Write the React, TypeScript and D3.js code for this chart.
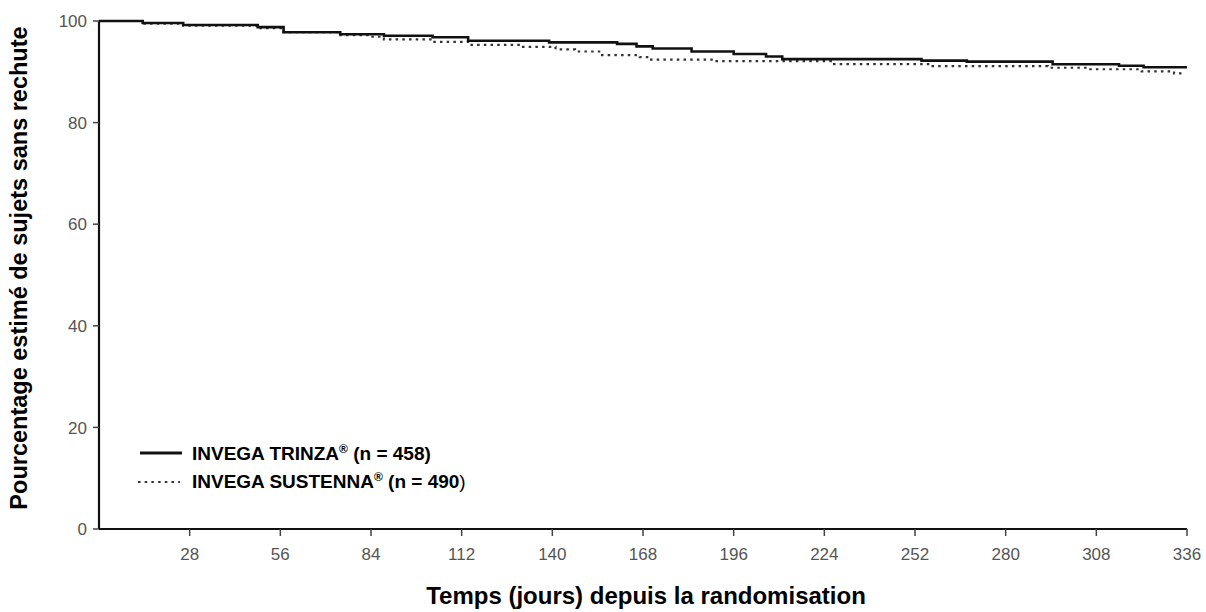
import React from "react";
import * as d3 from "d3";

const xTicks = [28, 56, 84, 112, 140, 168, 196, 224, 252, 280, 308, 336];
const yTicks = [0, 20, 40, 60, 80, 100];

const trinzaDays = [0, 13.5, 26, 49, 57, 74.5, 88, 103, 114, 139, 160, 166, 171, 183, 196, 206, 211, 254, 268, 294.5, 315, 322.6, 336];
const trinzaValues = [100, 99.6, 99.2, 98.8, 97.8, 97.4, 97.1, 96.8, 96.1, 95.8, 95.5, 95.0, 94.6, 94.0, 93.5, 93.0, 92.5, 92.2, 92.0, 91.5, 91.2, 90.9, 90.9];

const sustennaDays = [0, 13.5, 26, 49, 57, 74, 84, 88, 103, 114, 130, 141, 147, 155, 167, 170, 190, 226, 257, 293, 305, 322, 332, 335];
const sustennaValues = [100, 99.5, 99.1, 98.6, 97.8, 97.2, 96.9, 96.4, 95.9, 95.3, 94.9, 94.4, 94.0, 93.3, 92.9, 92.4, 92.1, 91.5, 91.1, 90.8, 90.5, 90.1, 89.7, 89.7];

const W = 1206;
const H = 612;

export default function App() {
  const x = d3.scaleLinear().domain([0, 336]).range([99, 1187]);
  const y = d3.scaleLinear().domain([0, 100]).range([529, 21]);
  const line = d3
    .line<[number, number]>()
    .x((d) => x(d[0]))
    .y((d) => y(d[1]))
    .curve(d3.curveStepAfter);
  const trinza: [number, number][] = trinzaDays.map((d, i) => [d, trinzaValues[i]]);
  const sustenna: [number, number][] = sustennaDays.map((d, i) => [d, sustennaValues[i]]);
  const font = "'Liberation Sans', Arial, sans-serif";
  return (
    <svg
      width={W}
      height={H}
      viewBox={`0 0 ${W} ${H}`}
      style={{ position: "absolute", left: 0, top: 0, background: "#fff" }}
      fontFamily={font}
    >
      <rect x={0} y={0} width={W} height={H} fill="#fff" />
      {/* series */}
      <path d={line(sustenna) || ""} fill="none" stroke="#333" strokeWidth={2.2} strokeDasharray="2.5,4.2" />
      <path d={line(trinza) || ""} fill="none" stroke="#111" strokeWidth={2.6} />
      {/* axes */}
      <line x1={x(0)} x2={x(0)} y1={y(100)} y2={y(0)} stroke="#111" strokeWidth={2.2} />
      <line x1={x(0)} x2={x(336)} y1={y(0)} y2={y(0)} stroke="#111" strokeWidth={2.2} />
      {yTicks.map((t) => (
        <g key={"y" + t}>
          <line x1={x(0) - 6} x2={x(0)} y1={y(t)} y2={y(t)} stroke="#444" strokeWidth={1.5} />
          <text x={x(0) - 12} y={y(t)} dy="0.36em" textAnchor="end" fontSize={17} fill="#555">
            {t}
          </text>
        </g>
      ))}
      {xTicks.map((t) => (
        <g key={"x" + t}>
          <line x1={x(t)} x2={x(t)} y1={y(0)} y2={y(0) + 7} stroke="#444" strokeWidth={1.5} />
          <text x={x(t)} y={y(0) + 31} textAnchor="middle" fontSize={17} fill="#555">
            {t}
          </text>
        </g>
      ))}
      {/* axis titles */}
      <text
        x={646}
        y={604}
        textAnchor="middle"
        fontSize={24}
        fontWeight="bold"
        fill="#000"
      >
        Temps (jours) depuis la randomisation
      </text>
      <text
        transform={`translate(27,268) rotate(-90)`}
        textAnchor="middle"
        fontSize={23.5}
        fontWeight="bold"
        fill="#000"
      >
        Pourcentage estimé de sujets sans rechute
      </text>
      {/* legend */}
      <line x1={140} x2={182} y1={453} y2={453} stroke="#111" strokeWidth={2.8} />
      <text x={192} y={460} fontSize={19} fontWeight="bold" fill="#000">
        INVEGA TRINZA
        <tspan fontSize={12} dy={-7}>®</tspan>
        <tspan dy={7}> (n = 458)</tspan>
      </text>
      <line x1={138} x2={180} y1={482} y2={482} stroke="#333" strokeWidth={2.2} strokeDasharray="2.5,4.2" />
      <text x={192} y={488} fontSize={19} fontWeight="bold" fill="#000">
        INVEGA SUSTENNA
        <tspan fontSize={12} dy={-7}>®</tspan>
        <tspan dy={7}> (n = 490</tspan>
        <tspan fontWeight="normal">)</tspan>
      </text>
    </svg>
  );
}
